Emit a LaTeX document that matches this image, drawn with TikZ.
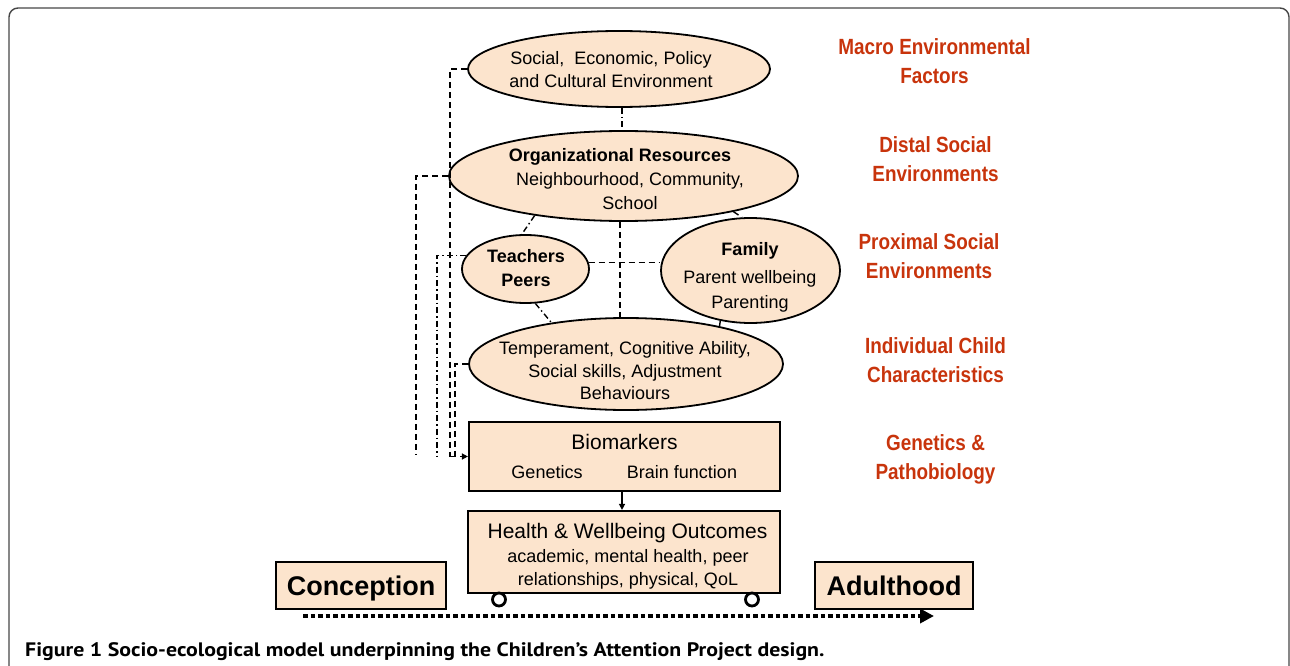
\documentclass[tikz,border=0pt]{standalone}
\usepackage{fontspec}
\setmainfont{Liberation Sans}
\newfontfamily\narrowfont{Liberation Sans}[FakeStretch=0.86]
\newfontfamily\capfont{PT Sans}[FakeStretch=1.12]
\usetikzlibrary{shapes.geometric,arrows.meta,calc}
\definecolor{peach}{RGB}{252,228,205}
\definecolor{lblred}{RGB}{200,52,12}
\definecolor{framec}{RGB}{70,70,70}
\begin{document}
\begin{tikzpicture}[x=1pt,y=-1pt,
  ell/.style={ellipse,draw=black,line width=1.8pt,fill=peach,inner sep=0pt},
  box/.style={rectangle,draw=black,line width=2.2pt,fill=peach,inner sep=0pt},
  txt/.style={align=center,inner sep=0pt,font=\fontsize{18}{23}\selectfont},
  lbl/.style={align=center,inner sep=0pt,text=lblred,font=\fontsize{22}{29}\narrowfont\bfseries},
  dsh/.style={line width=1.4pt,dash pattern=on 6pt off 4pt},
  dd/.style={line width=1.4pt,dash pattern=on 6pt off 3pt on 1.5pt off 3pt},
  tip/.style={-{Triangle[width=6pt,length=6pt]}},
  wheel/.style={circle,draw=black,line width=2.8pt,fill=white,minimum size=13pt,inner sep=0pt}
]
\useasboundingbox (0,0) rectangle (1290,666);
\clip (0,0) rectangle (1290,666);
\draw[framec,line width=1.4pt,rounded corners=9pt] (9,720) -- (9,8) -- (1289,8) -- (1289,720);

% ellipses
\node[ell,minimum width=302,minimum height=76] (macro) at (619,69) {};
\node[txt] (macrot) at (611,69.2) {Social,~~Economic, Policy\\and Cultural Environment};

\node[ell,minimum width=349,minimum height=90] (org) at (623.5,176) {};
\node[txt,font=\fontsize{18}{24}\selectfont] (orgt) at (630,179.5) {\textbf{Organizational Resources}\hspace*{20pt}\\Neighbourhood, Community,\\School};

\node[ell,minimum width=127,minimum height=68] (teachers) at (525.5,269) {};
\node[txt,font=\fontsize{18}{24}\selectfont\bfseries] (teacherst) at (526,268.5) {Teachers\\Peers};

\node[ell,minimum width=179,minimum height=105] (family) at (750.5,270.5) {};
\node[txt,font=\fontsize{18}{25}\selectfont] (familyt) at (750,276.9) {\textbf{Family}\\[3pt]Parent wellbeing\\Parenting};

\node[ell,minimum width=314,minimum height=92] (temp) at (626,364) {};
\node[txt,font=\fontsize{18}{22.5}\selectfont] (tempt) at (625,371) {Temperament, Cognitive Ability,\\Social skills, Adjustment\\Behaviours};

% boxes
\node[box,minimum width=311,minimum height=69] (bio) at (624.5,456.5) {};
\node[inner sep=0pt,anchor=base,font=\fontsize{21}{24}\selectfont] (biot) at (624.5,449) {Biomarkers};
\node[inner sep=0pt,anchor=base,font=\fontsize{18}{22}\selectfont] (gen) at (547,478) {Genetics};
\node[inner sep=0pt,anchor=base,font=\fontsize{18}{22}\selectfont] (brain) at (682,478) {Brain function};

\node[box,minimum width=312,minimum height=82] (health) at (624,552) {};
\node[inner sep=0pt,anchor=base,font=\fontsize{21}{24}\selectfont] (healtht) at (627.5,538) {Health \& Wellbeing Outcomes};
\node[txt] (healthd) at (628,569) {academic, mental health, peer\\relationships, physical, QoL};

\node[box,line width=2pt,minimum width=170,minimum height=47,text depth=0pt,font=\fontsize{27}{30}\selectfont\bfseries] (conc) at (361,585.5) {Conception};
\node[box,line width=2pt,minimum width=158,minimum height=47,text depth=0pt,font=\fontsize{27}{30}\selectfont\bfseries] (adult) at (894,585.5) {Adulthood};

\node[wheel] (w1) at (499,599.5) {};
\node[wheel] (w2) at (752,599.5) {};

% labels
\node[lbl] (l1) at (934.5,61.5) {Macro Environmental\\Factors};
\node[lbl] (l2) at (935.5,159) {Distal Social\\Environments};
\node[lbl] (l3) at (929,256) {Proximal Social\\Environments};
\node[lbl] (l4) at (935.5,360) {Individual Child\\Characteristics};
\node[lbl] (l5) at (935.5,459.8) {Genetics \&\\Pathobiology};

% inner connectors
\draw[dd] ($(macro.south)+(3,0)$) -- ($(org.north)+(-1.5,0)$);
\draw[dd] (org.204) -- (teachers.96);
\draw[dsh] (org.-18) -- (family.99);
\draw[dsh] ($(org.south)+(-3.5,0)$) -- ($(temp.north)+(-6,0)$);
\draw[dsh] (teachers.6) -- (teachers.6 -| family.west);
\draw[dd] (teachers.-74) -- (temp.151);
\draw[dd] (family.239) -- (temp.22);
\draw[line width=1.4pt,tip] ($(bio.south)+(-2.5,0)$) -- ($(health.north)+(-2,0)$);

% left connectors
\coordinate (jm) at (450,456.5);
\coordinate (jo) at (416,455);
\coordinate (jt) at (437,457);
\coordinate (jc) at (455,456.5);
\draw[dsh] (macro.west) -| (jm);
\draw[dsh] (org.west) -| (jo);
\draw[dd] (teachers.167) -| (jt);
\draw[dsh] (temp.west) -| (jc);
\draw[dsh,tip] (jm) -- (bio.west);

% timeline
\coordinate (t0) at (303,616);
\coordinate (t1) at (934,616);
\draw[line width=4.5pt,dash pattern=on 4.5pt off 3pt,-{Triangle[width=14pt,length=14pt]}] (t0) -- (t1);

% caption
\node[anchor=base west,inner sep=0pt,font=\capfont\bfseries\fontsize{19.5}{22}\selectfont] (cap) at (25,656) {Figure 1 Socio-ecological model underpinning the Children’s Attention Project design.};
\end{tikzpicture}
\end{document}
